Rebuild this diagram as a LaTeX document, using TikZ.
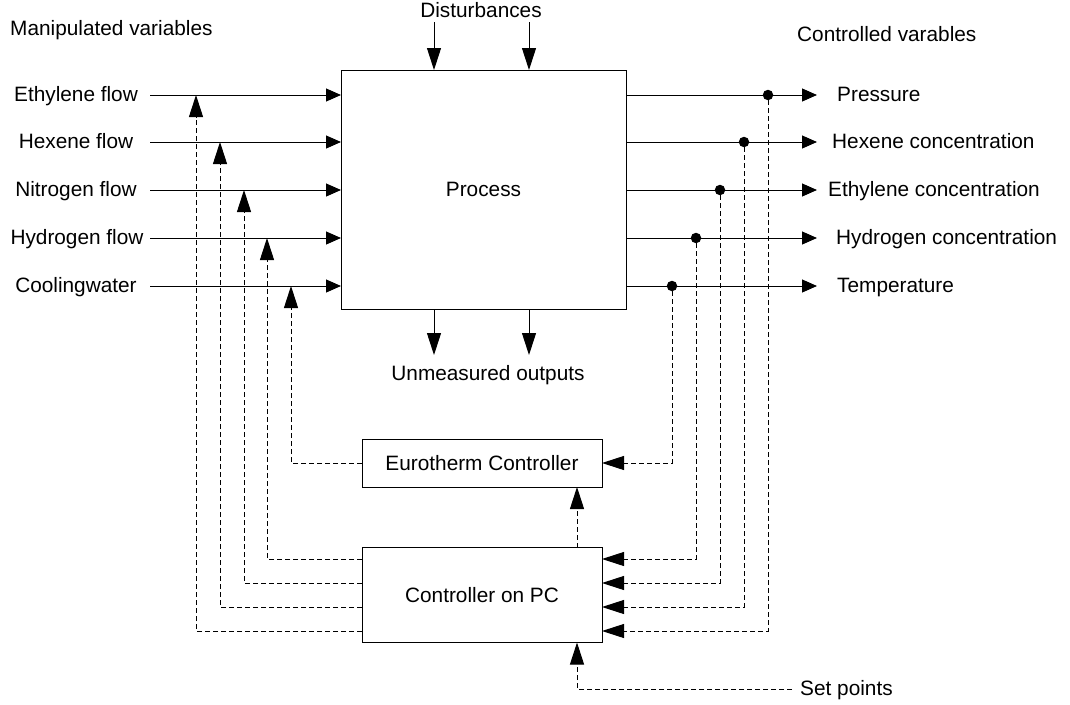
\documentclass[tikz,border=0pt]{standalone}
\usepackage{fontspec}
\setmainfont{Liberation Sans}
\usetikzlibrary{arrows.meta,positioning,calc}
\tikzset{
    blockbox/.style={draw, line width=1pt, inner sep=0pt, outer sep=0pt, align=center},
    sigarrow/.style={-{Triangle[length=15pt,width=13pt]}, line width=1pt},
    bigarrow/.style={-{Triangle[length=22pt,width=14pt]}, line width=1pt},
    fbline/.style={dash pattern=on 5pt off 3pt, line width=1pt}
}

\begin{document}
\begin{tikzpicture}[
    x=1pt, y=-1pt,
    font=\fontsize{20.8}{25}\selectfont,
    lbl/.style={inner sep=0pt},
    tapdot/.style={circle, fill, inner sep=0pt, minimum size=10.5pt}
]
\useasboundingbox (0,0) rectangle (1070,704);
\node[blockbox, minimum width=285pt, minimum height=239pt] (process) at (483.5,189.5) {Process};
\node[blockbox, minimum width=240pt, minimum height=48pt] (euro) at (482,463) {Eurotherm Controller};
\node[blockbox, minimum width=240pt, minimum height=95pt] (pc) at (482,595) {Controller on PC};

% headings
\node[lbl, anchor=base west] (manip) at (10,35) {Manipulated variables};
\node[lbl, anchor=base west] (contr) at (797,41.5) {Controlled varables};
\node[lbl, anchor=base] (dist) at (481,17) {Disturbances};
\node[lbl, anchor=base] (unmeas) at (488,380) {Unmeasured outputs};
\node[lbl, anchor=base west] (setp) at (800,695) {Set points};

% manipulated variables
\node[lbl, anchor=base] (ethflow) at (76,101) {Ethylene flow};
\node[lbl, anchor=base] (hexflow) at (76,148) {Hexene flow};
\node[lbl, anchor=base] (nitflow) at (76,196) {Nitrogen flow};
\node[lbl, anchor=base] (hydflow) at (77,244) {Hydrogen flow};
\node[lbl, anchor=base] (coolflow) at (76,292) {Coolingwater};
\coordinate (ethin) at (150,95);
\coordinate (hexin) at (150,142);
\coordinate (nitin) at (150,190);
\coordinate (hydin) at (150,238);
\coordinate (coolin) at (150,286);
\coordinate (ethact) at (196,95);
\coordinate (hexact) at (220,142);
\coordinate (nitact) at (244,190);
\coordinate (hydact) at (267,238);
\coordinate (coolact) at (291,286);

% controlled variables
\node[lbl, anchor=base west] (press) at (837,101) {Pressure};
\node[lbl, anchor=base west] (hexconc) at (832,148) {Hexene concentration};
\node[lbl, anchor=base west] (ethconc) at (828,196) {Ethylene concentration};
\node[lbl, anchor=base west] (hydconc) at (836,244) {Hydrogen concentration};
\node[lbl, anchor=base west] (temp) at (837,292) {Temperature};
\coordinate (pressout) at (817,95);
\coordinate (hexout) at (817,142);
\coordinate (ethout) at (817,190);
\coordinate (hydout) at (817,238);
\coordinate (tempout) at (817,286);

\draw[sigarrow] (ethin) -- (ethin -| process.west);
\draw[sigarrow] (hexin) -- (hexin -| process.west);
\draw[sigarrow] (nitin) -- (nitin -| process.west);
\draw[sigarrow] (hydin) -- (hydin -| process.west);
\draw[sigarrow] (coolin) -- (coolin -| process.west);

\draw[sigarrow] (process.east |- pressout) -- (pressout);
\draw[sigarrow] (process.east |- hexout) -- (hexout);
\draw[sigarrow] (process.east |- ethout) -- (ethout);
\draw[sigarrow] (process.east |- hydout) -- (hydout);
\draw[sigarrow] (process.east |- tempout) -- (tempout);

\node[tapdot] (tpress) at (768,95) {};
\node[tapdot] (thex) at (744,142) {};
\node[tapdot] (teth) at (720,190) {};
\node[tapdot] (thyd) at (696,238) {};
\node[tapdot] (ttemp) at (672,286) {};

% disturbances and unmeasured outputs
\coordinate (dist1) at (434,22);
\coordinate (dist2) at (529,22);
\coordinate (unm1) at (434,355);
\coordinate (unm2) at (529,355);
\draw[bigarrow] (dist1) -- (dist1 |- process.north);
\draw[bigarrow] (dist2) -- (dist2 |- process.north);
\draw[bigarrow] (unm1 |- process.south) -- (unm1);
\draw[bigarrow] (unm2 |- process.south) -- (unm2);

% feedback
\draw[fbline, bigarrow] (ttemp) |- (euro.east);
\draw[fbline, bigarrow] (euro.west) -| (coolact);
\draw[fbline, bigarrow] (thyd) |- ([yshift=36pt]pc.east);
\draw[fbline, bigarrow] (teth) |- ([yshift=12pt]pc.east);
\draw[fbline, bigarrow] (thex) |- ([yshift=-12pt]pc.east);
\draw[fbline, bigarrow] (tpress) |- ([yshift=-36pt]pc.east);
\draw[fbline, bigarrow] ([yshift=36pt]pc.west) -| (hydact);
\draw[fbline, bigarrow] ([yshift=12pt]pc.west) -| (nitact);
\draw[fbline, bigarrow] ([yshift=-12pt]pc.west) -| (hexact);
\draw[fbline, bigarrow] ([yshift=-36pt]pc.west) -| (ethact);
\draw[fbline, bigarrow] ([xshift=95pt]pc.north) -- ([xshift=95pt]euro.south);
\coordinate (spend) at (792,689);
\draw[fbline, bigarrow] (spend) -| ([xshift=95pt]pc.south);
\end{tikzpicture}
\end{document}
